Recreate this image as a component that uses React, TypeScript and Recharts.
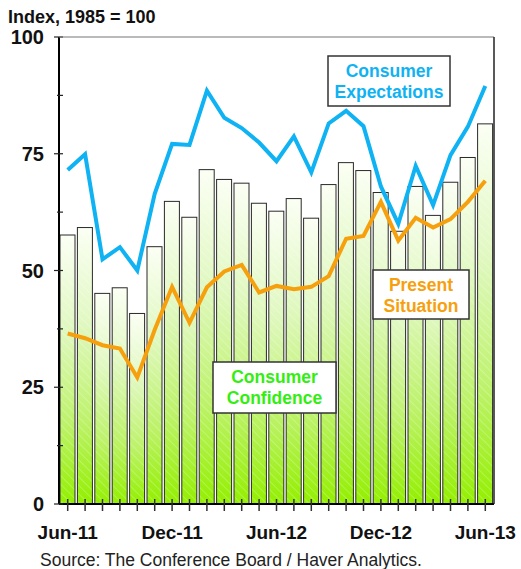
import React from "react";
import { ComposedChart, Bar, Line, XAxis, YAxis } from "recharts";

const months = [
  "Jun-11", "Jul-11", "Aug-11", "Sep-11", "Oct-11", "Nov-11", "Dec-11",
  "Jan-12", "Feb-12", "Mar-12", "Apr-12", "May-12", "Jun-12", "Jul-12",
  "Aug-12", "Sep-12", "Oct-12", "Nov-12", "Dec-12", "Jan-13", "Feb-13",
  "Mar-13", "Apr-13", "May-13", "Jun-13",
];
const confidence = [
  57.6, 59.2, 45.1, 46.3, 40.8, 55.1, 64.8, 61.4, 71.6, 69.5, 68.7, 64.4, 62.7,
  65.4, 61.2, 68.4, 73.1, 71.4, 66.7, 58.4, 68.0, 61.8, 68.9, 74.2, 81.4,
];
const expectations = [
  71.5, 74.9, 52.4, 55.0, 50.0, 66.4, 77.1, 76.9, 88.5, 82.7, 80.5, 77.4, 73.4,
  78.7, 71.0, 81.5, 84.2, 80.9, 68.0, 60.0, 72.4, 64.0, 74.7, 80.8, 89.5,
];
const presentSituation = [
  36.5, 35.5, 34.0, 33.3, 27.1, 37.3, 46.5, 38.8, 46.4, 49.8, 51.2, 45.3, 46.7,
  46.0, 46.5, 48.8, 56.8, 57.4, 64.7, 56.4, 61.3, 59.2, 61.0, 64.7, 69.2,
];
const xTickLabels = ["Jun-11", "Dec-11", "Jun-12", "Dec-12", "Jun-13"];
const yTicks = [0, 12.5, 25, 37.5, 50, 62.5, 75, 87.5, 100];
const yLabelTicks = [0, 25, 50, 75, 100];

const data = months.map((m, i) => ({
  month: m,
  confidence: confidence[i],
  expectations: expectations[i],
  present: presentSituation[i],
}));

const FONT = "'Liberation Sans', Arial, Helvetica, sans-serif";
const BLUE = "#0fb2f2";
const ORANGE = "#f7a00e";
const GREEN = "#33ee11";

const BarShape = (props: any) => {
  const { x, y, width, height } = props;
  if (!height || height <= 0) return null;
  return (
    <g>
      <rect x={x} y={y} width={width} height={height} fill="url(#barGrad)" />
      <rect x={x} y={y} width={width} height={height} fill="url(#hatch)" />
      <rect x={x} y={y} width={width} height={height} fill="none" stroke="#2a2a2a" strokeWidth={1} />
    </g>
  );
};

const XTick = (props: any) => {
  const { x, y, payload } = props;
  const label = xTickLabels.includes(payload.value) ? payload.value : "";
  return (
    <g>
      <line x1={x} x2={x} y1={y - 5} y2={y + 7} stroke="#333" strokeWidth={1.5} />
      {label && (
        <text x={x} y={y + 35} textAnchor="middle" fontFamily={FONT} fontWeight="bold" fontSize={19} fill="#111">
          {label}
        </text>
      )}
    </g>
  );
};

const YTick = (props: any) => {
  const { x, y, payload } = props;
  const major = yLabelTicks.includes(payload.value);
  return (
    <g>
      <line x1={major ? x - 5 : x - 2} x2={x + 4} y1={y} y2={y} stroke="#222" strokeWidth={1.2} />
      {major && (
        <text x={x - 15} y={y} dy="0.36em" textAnchor="end" fontFamily={FONT} fontWeight="bold" fontSize={20} fill="#111">
          {payload.value}
        </text>
      )}
    </g>
  );
};

const Box = ({ x, y, w, h, lines, color }: any) => (
  <g>
    <rect x={x} y={y} width={w} height={h} fill="#fff" stroke="#333" strokeWidth={1.5} />
    <text x={x + w / 2} y={y + 21} textAnchor="middle" fontFamily={FONT} fontWeight="bold" fontSize={17.5} fill={color}>
      {lines[0]}
    </text>
    <text x={x + w / 2} y={y + 42} textAnchor="middle" fontFamily={FONT} fontWeight="bold" fontSize={17.5} fill={color}>
      {lines[1]}
    </text>
  </g>
);

export default function App() {
  return (
    <div style={{ position: "absolute", left: 0, top: 0, width: 521, height: 569, background: "#fff" }}>
      <ComposedChart
        width={521}
        height={569}
        data={data}
        margin={{ top: 37, right: 27, bottom: 35, left: 0 }}
      >
        <defs>
          <linearGradient id="barGrad" x1="0" y1="0" x2="0" y2="1">
            <stop offset="0%" stopColor="#fbfff4" />
            <stop offset="35%" stopColor="#e0f8c0" />
            <stop offset="70%" stopColor="#bdf26a" />
            <stop offset="100%" stopColor="#93ef00" />
          </linearGradient>
          <pattern id="hatch" width="6" height="6" patternUnits="userSpaceOnUse" patternTransform="rotate(-45)">
            <line x1="0" y1="0" x2="0" y2="6" stroke="#ffffff" strokeOpacity={0.3} strokeWidth={1.5} />
          </pattern>
        </defs>
        <XAxis
          dataKey="month"
          interval={0}
          height={30}
          tickSize={0}
          tickMargin={0}
          tickLine={false}
          tick={<XTick />}
          axisLine={{ stroke: "#000", strokeWidth: 2 }}
        />
        <YAxis
          domain={[0, 100]}
          ticks={yTicks}
          width={59}
          tickSize={0}
          tickMargin={0}
          tickLine={false}
          tick={<YTick />}
          axisLine={{ stroke: "#000", strokeWidth: 2 }}
          allowDataOverflow
        />
        <Bar dataKey="confidence" barSize={15} shape={<BarShape />} isAnimationActive={false} />
        <Line dataKey="present" stroke={ORANGE} strokeWidth={4} dot={false} isAnimationActive={false} />
        <Line dataKey="expectations" stroke={BLUE} strokeWidth={4} dot={false} isAnimationActive={false} />
      </ComposedChart>
      <svg width={521} height={569} style={{ position: "absolute", left: 0, top: 0, pointerEvents: "none" }}>
        <line x1={59} y1={37} x2={494} y2={37} stroke="#777" strokeWidth={1.2} />
        <line x1={494} y1={37} x2={494} y2={504} stroke="#222" strokeWidth={1.5} />
        <text x={8} y={23} fontFamily={FONT} fontWeight="bold" fontSize={18} fill="#111">
          Index, 1985 = 100
        </text>
        <text x={40} y={566} fontFamily={FONT} fontSize={17.5} fill="#222">
          Source: The Conference Board / Haver Analytics.
        </text>
        <Box x={328} y={56} w={122} h={50} lines={["Consumer", "Expectations"]} color={BLUE} />
        <Box x={373} y={270} w={96} h={49} lines={["Present", "Situation"]} color={ORANGE} />
        <Box x={213} y={362} w={123} h={51} lines={["Consumer", "Confidence"]} color={GREEN} />
      </svg>
    </div>
  );
}
